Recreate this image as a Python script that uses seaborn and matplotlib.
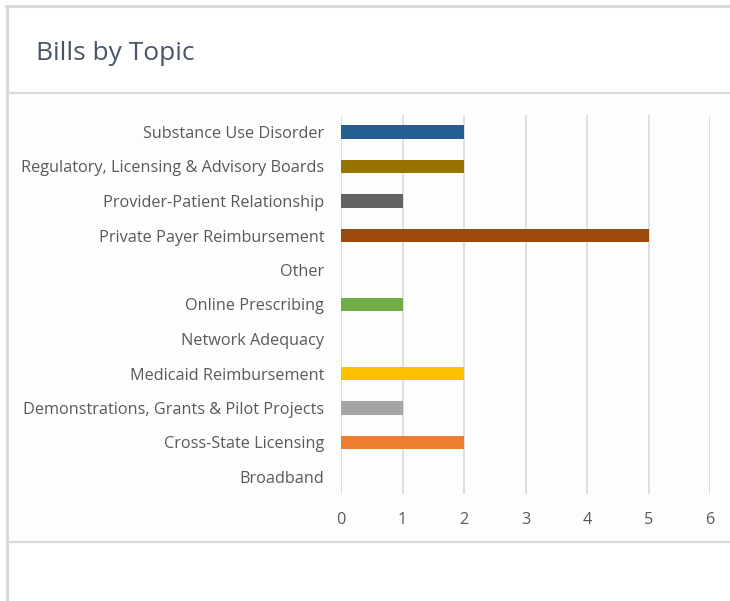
import seaborn as sns
import matplotlib.pyplot as plt
import pandas as pd
from matplotlib.lines import Line2D
from matplotlib.patches import Rectangle

# Topics listed top to bottom as in the chart
topics = ['Substance Use Disorder', 'Regulatory, Licensing & Advisory Boards',
          'Provider-Patient Relationship', 'Private Payer Reimbursement', 'Other',
          'Online Prescribing', 'Network Adequacy', 'Medicaid Reimbursement',
          'Demonstrations, Grants & Pilot Projects', 'Cross-State Licensing', 'Broadband']
bill_counts = [2, 2, 1, 5, 0, 1, 0, 2, 1, 2, 0]
bar_colors = ['#255e91', '#997300', '#636363', '#9e480e', '#264478', '#70ad47',
              '#5b9bd5', '#ffc000', '#a5a5a5', '#ed7d31', '#4472c4']
x_ticks = [0, 1, 2, 3, 4, 5, 6]

df = pd.DataFrame({'Topic': topics, 'Bills': bill_counts})

sns.set_style('white')
plt.rcParams['font.family'] = ['Open Sans', 'DejaVu Sans']

W, H = 730, 601
fig = plt.figure(figsize=(W / 100, H / 100), dpi=100)

# card frame
grey = '#d9d9d9'
fig.add_artist(Rectangle((8 / W, 1 - 542 / H), 1, (542 - 93) / H,
                         transform=fig.transFigure, facecolor='#fcfefd', edgecolor='none', zorder=0))
fig.add_artist(Line2D([6 / W, 1], [1 - 6 / H, 1 - 6 / H], color=grey, lw=2.2))
fig.add_artist(Line2D([7 / W, 7 / W], [0, 1 - 6 / H], color=grey, lw=2.2))
fig.add_artist(Line2D([8 / W, 1], [1 - 93 / H, 1 - 93 / H], color=grey, lw=1.6))
fig.add_artist(Line2D([8 / W, 1], [1 - 542 / H, 1 - 542 / H], color=grey, lw=1.6))

fig.text(36 / W, 1 - 54 / H, 'Bills by Topic', fontsize=19, color='#4a5568', va='center', ha='left')

ax = fig.add_axes([341 / W, 1 - 494.25 / H, 369 / W, 379.5 / H])
ax.patch.set_alpha(0)
sns.barplot(data=df, x='Bills', y='Topic', hue='Topic', order=topics,
            palette=dict(zip(topics, bar_colors)), legend=False, width=0.38,
            saturation=1, linewidth=0, ax=ax, zorder=3)

ax.set_xlim(0, 6)
ax.set_xticks(x_ticks)
ax.grid(axis='x', color=grey, lw=1.2)
ax.set_axisbelow(True)
for s in ax.spines.values():
    s.set_visible(False)
ax.tick_params(axis='both', length=0, labelsize=11.7, labelcolor='#595959')
ax.tick_params(axis='y', pad=12)
ax.tick_params(axis='x', pad=13)
ax.set_xlabel('')
ax.set_ylabel('')

plt.savefig('out.png', dpi=100)
